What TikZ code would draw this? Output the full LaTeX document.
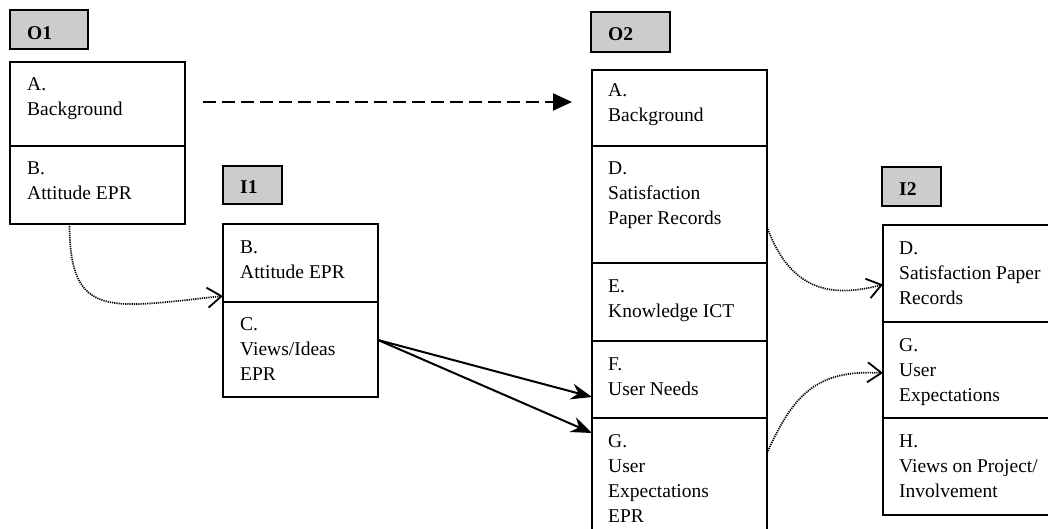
\documentclass[tikz,border=0pt]{standalone}
\usepackage{fontspec}
\setmainfont{Liberation Serif}
\usetikzlibrary{arrows.meta}
\tikzset{
  comp/.style={draw, line width=1.8pt, anchor=north west, inner sep=0pt, outer sep=0pt},
  lab/.style={draw, line width=1.8pt, fill=black!20, anchor=north west, inner sep=0pt, outer sep=0pt},
  txt/.style={anchor=base west, align=left, inner sep=0pt, font=\fontsize{19.5}{25}\selectfont},
  labtxt/.style={anchor=base west, inner sep=0pt, font=\fontsize{19.5}{25}\selectfont\bfseries},
  dasharrow/.style={line width=2.2pt, dash pattern=on 13pt off 6pt, -{Triangle[length=19pt,width=17pt]}},
  solidarrow/.style={line width=2pt, -{Stealth[length=21pt,width=16pt,inset=7pt]}},
  dotarrow/.style={line width=1.7pt, dash pattern=on 1.2pt off 1pt, -{Straight Barb[length=14pt,width=20pt,line width=1.8pt]}}
}
\begin{document}
\begin{tikzpicture}[x=1pt,y=-1pt]
\useasboundingbox (0,0) rectangle (1048,529);
\clip (0,0) rectangle (1048,529);
% header labels
\node[lab, minimum width=78pt, minimum height=39pt] (o1l) at (10,10) {};
\node[labtxt] (o1lt) at (27,40) {O1};
\node[lab, minimum width=79pt, minimum height=40pt] (o2l) at (591,12) {};
\node[labtxt] (o2lt) at (608,41) {O2};
\node[lab, minimum width=59pt, minimum height=38pt] (i1l) at (223,166) {};
\node[labtxt] (i1lt) at (240,194) {I1};
\node[lab, minimum width=59pt, minimum height=39pt] (i2l) at (882,167) {};
\node[labtxt] (i2lt) at (899,196) {I2};
% O1 (text nodes anchored at the baseline of their last line)
\node[comp, minimum width=175pt, minimum height=84pt] (o1a) at (10,62) {};
\node[txt] (o1at) at (27,116) {A.\\Background};
\node[comp, minimum width=175pt, minimum height=78pt] (o1b) at (10,146) {};
\node[txt] (o1bt) at (27,200) {B.\\Attitude EPR};
% I1
\node[comp, minimum width=155pt, minimum height=78pt] (i1b) at (223,224) {};
\node[txt] (i1bt) at (240,278) {B.\\Attitude EPR};
\node[comp, minimum width=155pt, minimum height=95pt] (i1c) at (223,302) {};
\node[txt] (i1ct) at (240,380) {C.\\Views/Ideas\\EPR};
% O2
\node[comp, minimum width=175pt, minimum height=76pt] (o2a) at (592,70) {};
\node[txt] (o2at) at (608,122) {A.\\Background};
\node[comp, minimum width=175pt, minimum height=117pt] (o2d) at (592,146) {};
\node[txt] (o2dt) at (608,225) {D.\\Satisfaction\\Paper Records};
\node[comp, minimum width=175pt, minimum height=78pt] (o2e) at (592,263) {};
\node[txt] (o2et) at (608,317) {E.\\Knowledge ICT};
\node[comp, minimum width=175pt, minimum height=77pt] (o2f) at (592,341) {};
\node[txt] (o2ft) at (608,395) {F.\\User Needs};
\node[comp, minimum width=175pt, minimum height=120pt] (o2g) at (592,418) {};
\node[txt] (o2gt) at (608,522) {G.\\User\\Expectations\\EPR};
% I2
\node[comp, minimum width=170pt, minimum height=97pt] (i2d) at (883,225) {};
\node[txt] (i2dt) at (899,304) {D.\\Satisfaction Paper\\Records};
\node[comp, minimum width=170pt, minimum height=96pt] (i2g) at (883,322) {};
\node[txt] (i2gt) at (899,401) {G.\\User\\Expectations};
\node[comp, minimum width=170pt, minimum height=97pt] (i2h) at (883,418) {};
\node[txt] (i2ht) at (899,497) {H.\\Views on Project/\\Involvement};
% connectors
\draw[dasharrow] ([xshift=18pt,yshift=2pt]o1a.east) -- ([xshift=-20pt,yshift=2pt]o1a.east -| o2a.west);
\draw[solidarrow] ([yshift=9.5pt]i1c.east) -- ([yshift=21pt]o2f.south west);
\draw[solidarrow] ([yshift=9.5pt]i1c.east) -- ([yshift=-15pt]o2g.north west);
\draw[dotarrow] ([xshift=-28pt]o1b.south) .. controls +(0,96) and +(-113,12) .. ([yshift=6pt]i1b.south west);
\draw[dotarrow] ([yshift=-22.5pt]o2d.east) .. controls +(23,63) and +(-53,14) .. ([yshift=-11pt]i2d.west);
\draw[dotarrow] ([yshift=-35pt]o2g.north east) .. controls +(28,-63) and +(-63,-3) .. ([yshift=-3pt]i2g.west);
\end{tikzpicture}
\end{document}
